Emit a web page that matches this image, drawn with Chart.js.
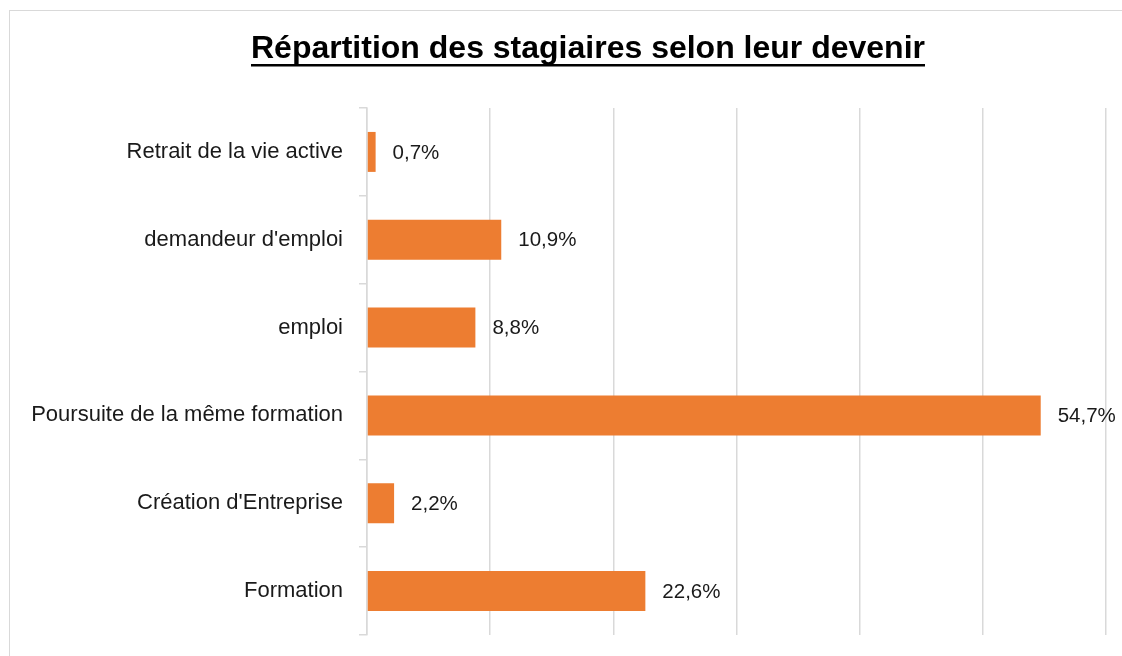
<!DOCTYPE html>
<html>
<head>
<meta charset="utf-8">
<script src="https://cdn.jsdelivr.net/npm/chart.js@4.4.1/dist/chart.umd.min.js"></script>
<style>
  body { margin: 0; background: #fff; overflow: hidden; }
  #wrap { position: relative; width: 1122px; height: 656px; }
  #frame { position: absolute; left: 9px; top: 10px; width: 1200px; height: 700px; border: 1px solid #d9d9d9; }
  #myChart { position: absolute; left: 0; top: 0; }
</style>
</head>
<body>
<div id="wrap">
  <div id="frame"></div>
  <canvas id="myChart" width="1122" height="656"></canvas>
</div>
<script>
var chart_title = "Répartition des stagiaires selon leur devenir";
var categories = ["Retrait de la vie active", "demandeur d'emploi", "emploi", "Poursuite de la même formation", "Création d'Entreprise", "Formation"];
var values = [0.7, 10.9, 8.8, 54.7, 2.2, 22.6];
var x_max = 60;
var x_step = 10;

// titre souligné (Chart.js ne sait pas souligner)
var titlePlugin = {
    id: 'titleUnderline',
    afterDraw: function(chart){
        var ctx = chart.ctx;
        ctx.save();
        ctx.font = 'bold 32px "Liberation Sans", Arial, sans-serif';
        ctx.fillStyle = '#000';
        ctx.textAlign = 'center';
        ctx.textBaseline = 'alphabetic';
        var cx = 588;
        ctx.fillText(chart_title, cx, 58);
        var w = ctx.measureText(chart_title).width;
        ctx.fillRect(cx - w / 2, 64, w, 2.5);
        ctx.restore();
    }
};

// etiquettes de valeur a droite des barres
var labelPlugin = {
    id: 'valueLabels',
    afterDatasetsDraw: function(chart){
        var ctx = chart.ctx;
        var meta = chart.getDatasetMeta(0);
        ctx.save();
        ctx.font = '20.5px "Liberation Sans", Arial, sans-serif';
        ctx.fillStyle = '#1a1a1a';
        ctx.textAlign = 'left';
        ctx.textBaseline = 'middle';
        meta.data.forEach(function(bar, i){
            var txt = values[i].toFixed(1).replace('.', ',') + '%';
            ctx.fillText(txt, bar.x + 17, bar.y + 1);
        });
        ctx.restore();
    }
};

var ctx = document.getElementById('myChart').getContext('2d');
var myBarChart = new Chart(ctx, {
    type: 'bar',
    data: {
        labels: categories,
        datasets: [{
            data: values,
            backgroundColor: '#ED7D31',
            borderWidth: 0,
            categoryPercentage: 1,
            barPercentage: 0.455
        }]
    },
    options: {
        indexAxis: 'y',
        responsive: false,
        animation: false,
        layout: { padding: { top: 108, right: 16, bottom: 21, left: 0 } },
        plugins: {
            legend: { display: false },
            title: { display: false },
            tooltip: { enabled: false }
        },
        scales: {
            x: {
                min: 0,
                max: x_max,
                ticks: { display: false, stepSize: x_step },
                grid: { color: '#d9d9d9', lineWidth: 1.5, drawTicks: false },
                border: { display: false }
            },
            y: {
                afterFit: function(scale){
                    scale.width = 367;
                    scale.paddingTop = 0;
                    scale.paddingBottom = 0;
                },
                ticks: {
                    color: '#1a1a1a',
                    padding: 16,
                    font: { family: '"Liberation Sans", Arial, sans-serif', size: 22 }
                },
                grid: { drawOnChartArea: false, drawTicks: true, tickLength: 8, color: '#d9d9d9', lineWidth: 1.5 },
                border: { display: true, color: '#d9d9d9', width: 1.5 }
            }
        }
    },
    plugins: [titlePlugin, labelPlugin]
});
</script>
</body>
</html>
